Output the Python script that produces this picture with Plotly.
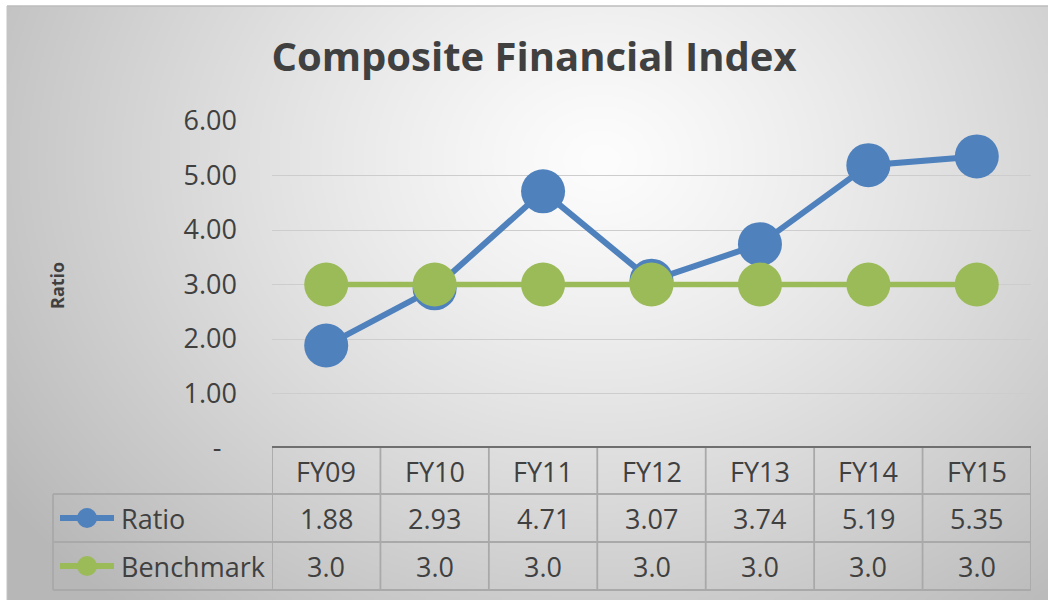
import base64, struct, zlib
import numpy as np
import plotly.graph_objects as go

# ---------------- data ----------------
categories = ["FY09", "FY10", "FY11", "FY12", "FY13", "FY14", "FY15"]
ratio = [1.88, 2.93, 4.71, 3.07, 3.74, 5.19, 5.35]
benchmark = [3.0, 3.0, 3.0, 3.0, 3.0, 3.0, 3.0]
y_tickvals = [0, 1, 2, 3, 4, 5, 6]
y_ticktext = ["-\u2007", "1.00", "2.00", "3.00", "4.00", "5.00", "6.00"]
title_text = "Composite Financial Index"
y_title = "Ratio"
series_names = ["Ratio", "Benchmark"]

BLUE = "#4F81BD"
GREEN = "#9BBB59"
TXT = "#404040"
FONT = "Open Sans"

W, H = 1048, 602


def px_x(x):
    return x / W


def px_y(y):
    return (H - y) / H


# ---------------- background radial gradient (PNG) ----------------
def make_png(arr):
    h, w, _ = arr.shape
    raw = b"".join(b"\x00" + arr[i].tobytes() for i in range(h))

    def chunk(t, d):
        c = struct.pack(">I", len(d)) + t + d
        return c + struct.pack(">I", zlib.crc32(t + d) & 0xFFFFFFFF)

    return (b"\x89PNG\r\n\x1a\n"
            + chunk(b"IHDR", struct.pack(">IIBBBBB", w, h, 8, 2, 0, 0, 0))
            + chunk(b"IDAT", zlib.compress(raw, 9))
            + chunk(b"IEND", b""))


bx0, by0, bx1, by1 = 7, 6, 1048, 600
gw, gh = (bx1 - bx0) // 2, (by1 - by0) // 2
xs = np.linspace(bx0, bx1, gw)
ys = np.linspace(by0, by1, gh)
XX, YY = np.meshgrid(xs, ys)
d = np.sqrt(((XX - 600) / 610) ** 2 + ((YY - 160) / 500) ** 2)
v = 253 - 56 * np.clip(d, 0, 1.2) ** 1.2
v = np.clip(v, 0, 255).astype(np.uint8)
img = np.stack([v, v, v], axis=-1)
uri = "data:image/png;base64," + base64.b64encode(make_png(img)).decode()

# ---------------- figure ----------------
fig = go.Figure()
xi = list(range(len(categories)))
fig.add_trace(go.Scatter(
    x=xi, y=ratio, name=series_names[0], mode="lines+markers",
    line=dict(color=BLUE, width=6),
    marker=dict(color=BLUE, size=44, line=dict(width=0)),
    cliponaxis=False, hoverinfo="skip"))
fig.add_trace(go.Scatter(
    x=xi, y=benchmark, name=series_names[1], mode="lines+markers",
    line=dict(color=GREEN, width=5.5),
    marker=dict(color=GREEN, size=44, line=dict(width=0)),
    cliponaxis=False, hoverinfo="skip"))

plot_left, plot_right = 272, 1031
plot_top, plot_bottom = 121, 448

fig.update_layout(
    template="none",
    width=W, height=H, autosize=False,
    margin=dict(l=0, r=0, t=0, b=0, pad=0, autoexpand=False),
    paper_bgcolor="white", plot_bgcolor="rgba(0,0,0,0)",
    showlegend=False,
    font=dict(family=FONT, color=TXT, size=27),
    title=dict(text="<b>%s</b>" % title_text, x=534 / W, y=px_y(57),
               xref="paper", yref="paper",
               xanchor="center", yanchor="middle",
               font=dict(family=FONT, size=40, color=TXT)),
    xaxis=dict(domain=[px_x(plot_left), px_x(plot_right)],
               range=[-0.5, len(categories) - 0.5], automargin=False,
               showticklabels=False, showgrid=False, zeroline=False,
               showline=False, ticks=""),
    yaxis=dict(domain=[px_y(plot_bottom), px_y(plot_top)], automargin=False,
               range=[0, 6], tickvals=y_tickvals, ticktext=y_ticktext,
               showgrid=True, gridcolor="#cdcdcd", gridwidth=1.3,
               zeroline=False, showline=False, ticks="",
               ticklabelstandoff=34,
               tickfont=dict(family=FONT, size=27, color=TXT)),
    images=[dict(source=uri, xref="paper", yref="paper",
                 x=px_x(bx0), y=px_y(by0), sizex=px_x(bx1) - px_x(bx0),
                 sizey=px_y(by0) - px_y(by1), sizing="stretch",
                 layer="below", xanchor="left", yanchor="top")],
)

shapes = []
# chart border (top/left)
shapes.append(dict(type="line", xref="paper", yref="paper",
                   x0=px_x(bx0), x1=1, y0=px_y(by0), y1=px_y(by0),
                   line=dict(color="#bdbdbd", width=1.5)))
shapes.append(dict(type="line", xref="paper", yref="paper",
                   x0=px_x(bx0), x1=px_x(bx0), y0=px_y(by0), y1=px_y(by1),
                   line=dict(color="#c4c4c4", width=1)))

TBL = "#a9a9a9"
row_y = [448, 494, 542, 590]
label_left = 53
# vertical lines at category boundaries
for i in range(len(categories) + 1):
    shapes.append(dict(type="line", xref="x", yref="paper",
                       x0=i - 0.5, x1=i - 0.5,
                       y0=px_y(row_y[0]), y1=px_y(row_y[-1]),
                       line=dict(color=TBL, width=1.8)))
# left column border
shapes.append(dict(type="line", xref="paper", yref="paper",
                   x0=px_x(label_left), x1=px_x(label_left),
                   y0=px_y(row_y[1]), y1=px_y(row_y[-1]),
                   line=dict(color=TBL, width=1.8)))
# horizontal lines
for ry in row_y[1:]:
    shapes.append(dict(type="line", xref="paper", yref="paper",
                       x0=px_x(label_left), x1=px_x(plot_right),
                       y0=px_y(ry), y1=px_y(ry),
                       line=dict(color=TBL, width=1.8)))
# axis line (dark) on top of table
shapes.append(dict(type="line", xref="paper", yref="paper",
                   x0=px_x(plot_left), x1=px_x(plot_right),
                   y0=px_y(447), y1=px_y(447),
                   line=dict(color="#6f6f6f", width=2)))

annotations = []
row_centers = [471, 518, 566]
for i, c in enumerate(categories):
    annotations.append(dict(x=i, y=px_y(row_centers[0]), xref="x", yref="paper",
                            text=c, showarrow=False, xanchor="center",
                            yanchor="middle", font=dict(size=27, color=TXT, family=FONT)))
    annotations.append(dict(x=i, y=px_y(row_centers[1]), xref="x", yref="paper",
                            text="%.2f" % ratio[i], showarrow=False, xanchor="center",
                            yanchor="middle", font=dict(size=27, color=TXT, family=FONT)))
    annotations.append(dict(x=i, y=px_y(row_centers[2]), xref="x", yref="paper",
                            text="%.1f" % benchmark[i], showarrow=False, xanchor="center",
                            yanchor="middle", font=dict(size=27, color=TXT, family=FONT)))

# legend keys in table rows
for name, col, cy in [(series_names[0], BLUE, row_centers[1]),
                      (series_names[1], GREEN, row_centers[2])]:
    shapes.append(dict(type="line", xref="paper", yref="paper",
                       x0=px_x(60), x1=px_x(114), y0=px_y(cy), y1=px_y(cy),
                       line=dict(color=col, width=6)))
    shapes.append(dict(type="circle", xref="paper", yref="paper",
                       x0=px_x(77), x1=px_x(97), y0=px_y(cy + 10), y1=px_y(cy - 10),
                       fillcolor=col, line=dict(width=0)))
    annotations.append(dict(x=px_x(119), y=px_y(cy), xref="paper", yref="paper",
                            text=name, showarrow=False, xanchor="left",
                            yanchor="middle", font=dict(size=27, color=TXT, family=FONT)))

# y-axis title
annotations.append(dict(x=px_x(57), y=px_y(286), xref="paper", yref="paper",
                        text="<b>%s</b>" % y_title, textangle=-90, showarrow=False,
                        xanchor="center", yanchor="middle",
                        font=dict(size=18, color=TXT, family=FONT)))

fig.update_layout(shapes=shapes, annotations=annotations)
fig.write_html("out.html",
               config={"displayModeBar": False},
               post_script="document.body.style.margin='0px';"
                           "document.body.style.overflow='hidden';")
